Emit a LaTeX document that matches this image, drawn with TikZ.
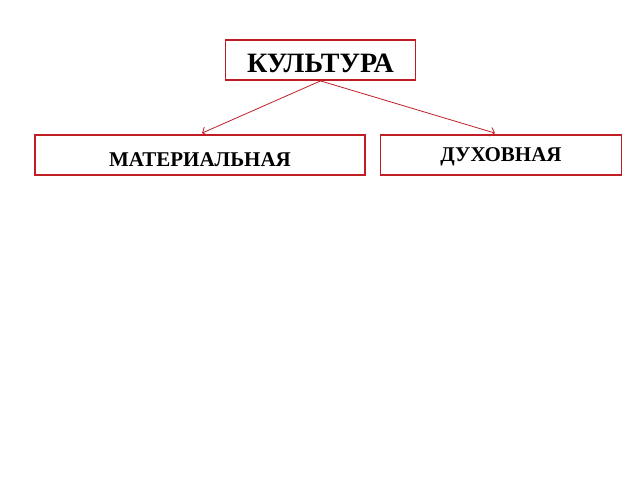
\documentclass[tikz,border=0pt]{standalone}
\usepackage{fontspec}
\setmainfont{Liberation Serif}
\usetikzlibrary{arrows.meta}
\definecolor{boxred}{RGB}{192,30,36}
\begin{document}
\begin{tikzpicture} [x=1pt, y=-1pt,
	every node/.style = {shape=rectangle, draw=boxred, line width=1.8pt, align=center, font=\bfseries, inner sep=0pt, minimum height=40pt, text depth=0pt},
	link/.style = {draw=boxred, line width=0.8pt, -{Straight Barb[length=4pt,width=9pt]}}]
			\useasboundingbox (0,0) rectangle (640,480);
			\node (culture) [minimum width=190pt, text height=24pt, font=\bfseries\fontsize{28}{30}\selectfont] at (320.5,60) {КУЛЬТУРА};
			\node (material) [minimum width=330pt, text height=22pt, font=\bfseries\fontsize{21}{22}\selectfont] at (200,155) {МАТЕРИАЛЬНАЯ};
			\node (spirit) [minimum width=241pt, text height=12pt, font=\bfseries\fontsize{21}{22}\selectfont] at (501,155) {ДУХОВНАЯ};
			% connectors
			\path [link] (culture.south) -- ([xshift=2pt, yshift=1pt]material.north);
			\path [link] (culture.south) -- ([xshift=-6pt, yshift=1pt]spirit.north);
		\end{tikzpicture}
\end{document}
